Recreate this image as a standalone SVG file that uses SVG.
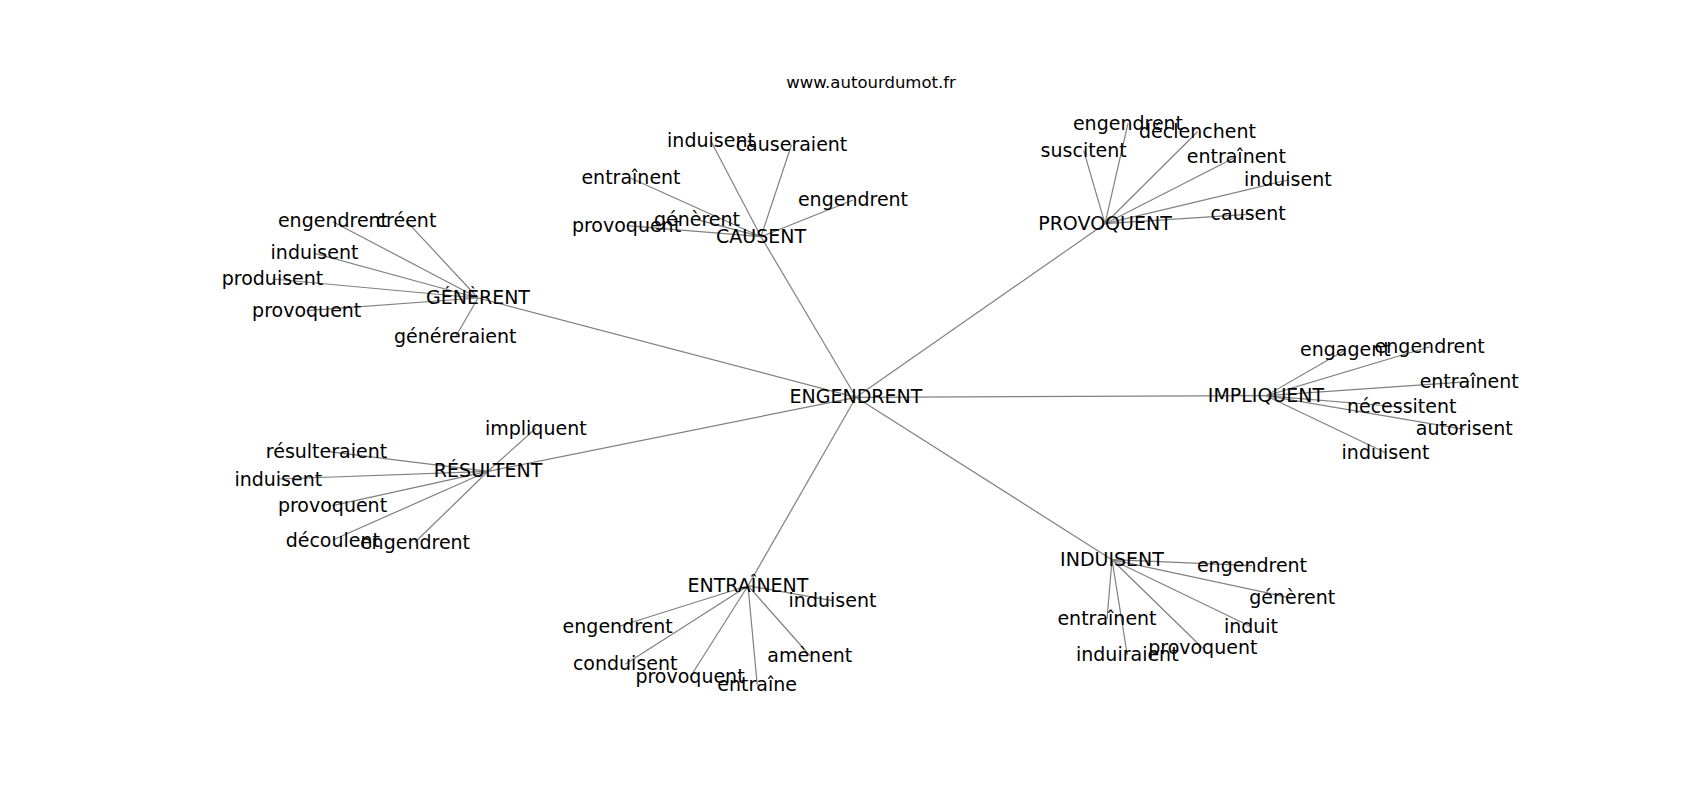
<svg xmlns="http://www.w3.org/2000/svg" width="1700" height="800" viewBox="0 0 1700 800">
<style>
text{font-family:"DejaVu Sans",sans-serif;font-size:19px;fill:#000;text-anchor:middle}
.title{font-size:16.5px}
#edges line{stroke:#808080;stroke-width:1.2}
</style>
<rect width="1700" height="800" fill="#fff"/>
<text class="title" x="871" y="88">www.autourdumot.fr</text>
<g id="edges">
<line x1="856" y1="397.3" x2="478" y2="298"/>
<line x1="856" y1="397.3" x2="761" y2="236.7"/>
<line x1="856" y1="397.3" x2="1105" y2="223.7"/>
<line x1="856" y1="397.3" x2="1266" y2="395.7"/>
<line x1="856" y1="397.3" x2="488" y2="471.3"/>
<line x1="856" y1="397.3" x2="748" y2="585.7"/>
<line x1="856" y1="397.3" x2="1112" y2="559.7"/>
<line x1="478" y1="298" x2="333" y2="221.7"/>
<line x1="478" y1="298" x2="406" y2="220.7"/>
<line x1="478" y1="298" x2="314.5" y2="253.3"/>
<line x1="478" y1="298" x2="272.5" y2="279"/>
<line x1="478" y1="298" x2="306.7" y2="310.7"/>
<line x1="478" y1="298" x2="455.3" y2="337.3"/>
<line x1="761" y1="236.7" x2="711" y2="141.3"/>
<line x1="761" y1="236.7" x2="791.5" y2="144.7"/>
<line x1="761" y1="236.7" x2="631" y2="178.3"/>
<line x1="761" y1="236.7" x2="853" y2="200"/>
<line x1="761" y1="236.7" x2="626.5" y2="225.7"/>
<line x1="761" y1="236.7" x2="697" y2="219.7"/>
<line x1="1105" y1="223.7" x2="1128" y2="123.3"/>
<line x1="1105" y1="223.7" x2="1197.5" y2="131.7"/>
<line x1="1105" y1="223.7" x2="1083.7" y2="150.7"/>
<line x1="1105" y1="223.7" x2="1236.3" y2="156.7"/>
<line x1="1105" y1="223.7" x2="1287.8" y2="180"/>
<line x1="1105" y1="223.7" x2="1248.2" y2="214.3"/>
<line x1="1266" y1="395.7" x2="1345.3" y2="350"/>
<line x1="1266" y1="395.7" x2="1429.7" y2="346.7"/>
<line x1="1266" y1="395.7" x2="1469.2" y2="381.7"/>
<line x1="1266" y1="395.7" x2="1401.7" y2="407"/>
<line x1="1266" y1="395.7" x2="1464.3" y2="429.3"/>
<line x1="1266" y1="395.7" x2="1385.5" y2="452.7"/>
<line x1="488" y1="471.3" x2="535.8" y2="428.3"/>
<line x1="488" y1="471.3" x2="326.5" y2="451.3"/>
<line x1="488" y1="471.3" x2="278.3" y2="479"/>
<line x1="488" y1="471.3" x2="332.5" y2="505.7"/>
<line x1="488" y1="471.3" x2="332.8" y2="540"/>
<line x1="488" y1="471.3" x2="415" y2="542.3"/>
<line x1="748" y1="585.7" x2="832.5" y2="600.7"/>
<line x1="748" y1="585.7" x2="617.7" y2="626.7"/>
<line x1="748" y1="585.7" x2="625.2" y2="664.3"/>
<line x1="748" y1="585.7" x2="809.8" y2="655.5"/>
<line x1="748" y1="585.7" x2="690" y2="677.2"/>
<line x1="748" y1="585.7" x2="757.2" y2="684.8"/>
<line x1="1112" y1="559.7" x2="1252" y2="565.7"/>
<line x1="1112" y1="559.7" x2="1292.2" y2="598.3"/>
<line x1="1112" y1="559.7" x2="1107" y2="619.3"/>
<line x1="1112" y1="559.7" x2="1251" y2="626.7"/>
<line x1="1112" y1="559.7" x2="1127.3" y2="655"/>
<line x1="1112" y1="559.7" x2="1202.8" y2="648.3"/>
</g>
<g id="n-engendrent-root"><text x="856" y="403.3">ENGENDRENT</text></g>
<g id="n-generent"><text x="478" y="304">GÉNÈRENT</text></g>
<g id="n-causent"><text x="761" y="242.7">CAUSENT</text></g>
<g id="n-provoquent"><text x="1105" y="229.7">PROVOQUENT</text></g>
<g id="n-impliquent"><text x="1266" y="401.7">IMPLIQUENT</text></g>
<g id="n-resultent"><text x="488" y="477.3">RÉSULTENT</text></g>
<g id="n-entrainent"><text x="748" y="591.7">ENTRAÎNENT</text></g>
<g id="n-induisent"><text x="1112" y="565.7">INDUISENT</text></g>
<g id="n-gen-engendrent"><text x="333" y="227">engendrent</text></g>
<g id="n-gen-creent"><text x="406" y="226.7">créent</text></g>
<g id="n-gen-induisent"><text x="314.5" y="259.3">induisent</text></g>
<g id="n-gen-produisent"><text x="272.5" y="285">produisent</text></g>
<g id="n-gen-provoquent"><text x="306.7" y="316.7">provoquent</text></g>
<g id="n-gen-genereraient"><text x="455.3" y="343.3">généreraient</text></g>
<g id="n-cau-induisent"><text x="711" y="147.3">induisent</text></g>
<g id="n-cau-causeraient"><text x="791.5" y="150.7">causeraient</text></g>
<g id="n-cau-entrainent"><text x="631" y="184.3">entraînent</text></g>
<g id="n-cau-engendrent"><text x="853" y="206">engendrent</text></g>
<g id="n-cau-provoquent"><text x="626.5" y="231.7">provoquent</text></g>
<g id="n-cau-generent"><text x="697" y="225.7">génèrent</text></g>
<g id="n-pro-engendrent"><text x="1128" y="129.8">engendrent</text></g>
<g id="n-pro-declenchent"><text x="1197.5" y="138.2">déclenchent</text></g>
<g id="n-pro-suscitent"><text x="1083.7" y="156.7">suscitent</text></g>
<g id="n-pro-entrainent"><text x="1236.3" y="162.7">entraînent</text></g>
<g id="n-pro-induisent"><text x="1287.8" y="186">induisent</text></g>
<g id="n-pro-causent"><text x="1248.2" y="220.3">causent</text></g>
<g id="n-imp-engagent"><text x="1345.3" y="356">engagent</text></g>
<g id="n-imp-engendrent"><text x="1429.7" y="352.7">engendrent</text></g>
<g id="n-imp-entrainent"><text x="1469.2" y="387.7">entraînent</text></g>
<g id="n-imp-necessitent"><text x="1401.7" y="413">nécessitent</text></g>
<g id="n-imp-autorisent"><text x="1464.3" y="435.3">autorisent</text></g>
<g id="n-imp-induisent"><text x="1385.5" y="458.7">induisent</text></g>
<g id="n-res-impliquent"><text x="535.8" y="434.8">impliquent</text></g>
<g id="n-res-resulteraient"><text x="326.5" y="457.8">résulteraient</text></g>
<g id="n-res-induisent"><text x="278.3" y="485.5">induisent</text></g>
<g id="n-res-provoquent"><text x="332.5" y="512.2">provoquent</text></g>
<g id="n-res-decoulent"><text x="332.8" y="546.5">découlent</text></g>
<g id="n-res-engendrent"><text x="415" y="549">engendrent</text></g>
<g id="n-ent-induisent"><text x="832.5" y="607.2">induisent</text></g>
<g id="n-ent-engendrent"><text x="617.7" y="632.7">engendrent</text></g>
<g id="n-ent-conduisent"><text x="625.2" y="670.3">conduisent</text></g>
<g id="n-ent-amenent"><text x="809.8" y="661.5">amènent</text></g>
<g id="n-ent-provoquent"><text x="690" y="683.2">provoquent</text></g>
<g id="n-ent-entraine"><text x="757.2" y="690.8">entraîne</text></g>
<g id="n-ind-engendrent"><text x="1252" y="572.2">engendrent</text></g>
<g id="n-ind-generent"><text x="1292.2" y="604.3">génèrent</text></g>
<g id="n-ind-entrainent"><text x="1107" y="625.3">entraînent</text></g>
<g id="n-ind-induit"><text x="1251" y="632.7">induit</text></g>
<g id="n-ind-induiraient"><text x="1127.3" y="661">induiraient</text></g>
<g id="n-ind-provoquent"><text x="1202.8" y="654.3">provoquent</text></g>
</svg>
